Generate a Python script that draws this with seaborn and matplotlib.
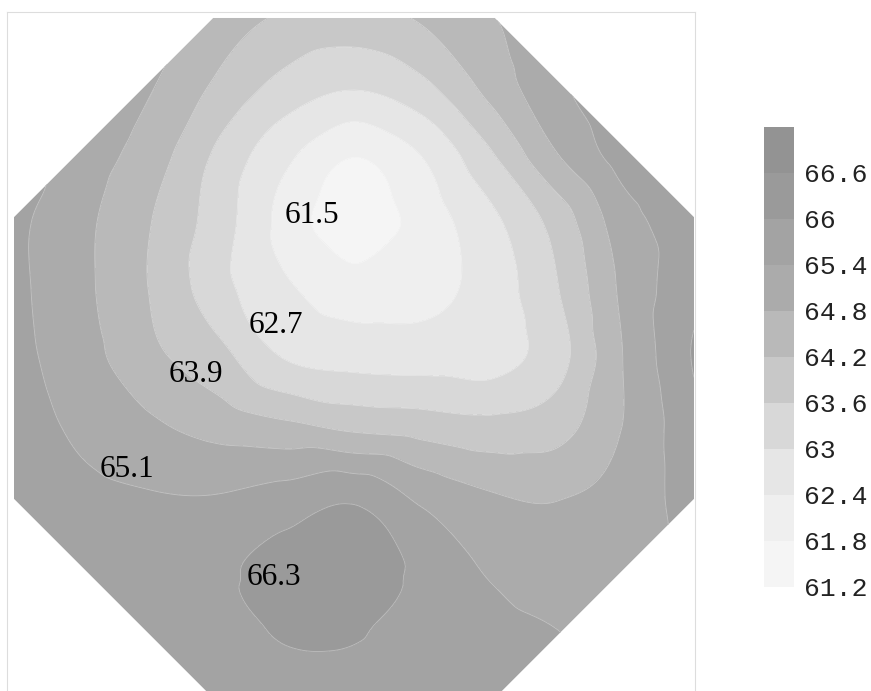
import numpy as np
import matplotlib
matplotlib.use("Agg")
import matplotlib.pyplot as plt
import matplotlib.tri as mtri
from matplotlib.patches import Polygon
import seaborn as sns

# --- grid nodes (octagon inradius = 1) ---
x_nodes = [-1.0, -0.8, -0.6, -0.4, -0.2, 0.0, 0.2, 0.4, 0.6, 0.8, 1.0]
y_nodes = [1.0, 0.8, 0.6, 0.4, 0.2, 0.0, -0.2, -0.4, -0.6, -0.8, -1.0]

# values, one row per y node (top to bottom)
z_rows = [
    [66.2, 65.7, 65.2, 64.52, 64.1, 64.0, 64.28, 64.75, 65.3, 65.8, 66.2],
    [65.9, 65.4, 64.85, 64.09, 63.39, 63.06, 63.46, 64.4, 65.3, 65.8, 66.1],
    [65.8, 65.14, 64.51, 63.49, 62.54, 61.84, 62.43, 63.53, 64.8, 65.68, 66.0],
    [65.55, 64.95, 64.22, 63.3, 62.2, 61.3, 62.08, 62.83, 63.85, 65.17, 65.75],
    [65.55, 64.94, 64.18, 63.23, 62.49, 62.15, 62.2, 62.67, 63.58, 64.97, 65.85],
    [65.6, 65.05, 64.35, 63.82, 62.97, 62.78, 62.76, 62.75, 63.39, 64.86, 66.05],
    [65.7, 65.27, 64.9, 64.57, 64.32, 64.05, 63.92, 63.77, 63.96, 64.85, 65.85],
    [65.8, 65.55, 65.43, 65.4, 65.6, 65.85, 65.23, 64.83, 64.75, 65.0, 65.75],
    [65.9, 65.75, 65.8, 65.9, 66.2, 66.4, 65.85, 65.3, 65.1, 65.25, 65.6],
    [65.9, 65.85, 65.8, 65.85, 66.05, 66.05, 65.75, 65.55, 65.4, 65.2, 65.5],
    [65.9, 65.85, 65.8, 65.75, 65.8, 65.8, 65.7, 65.6, 65.5, 65.4, 65.6],
]

levels = [61.2, 61.8, 62.4, 63.0, 63.6, 64.2, 64.8, 65.4, 66.0, 66.6, 67.2]
band_colors = ['#f5f5f5', '#efefef', '#e6e6e6', '#d8d8d8', '#c8c8c8',
               '#b9b9b9', '#ababab', '#a3a3a3', '#9a9a9a', '#939393']

# contour labels
label_vals = [61.5, 62.7, 63.9, 65.1, 66.3]
label_x = [-0.124, -0.229, -0.465, -0.668, -0.235]
label_y = [0.418, 0.097, -0.05, -0.329, -0.647]

sns.set_theme(style="white")
plt.rcParams['font.family'] = ['Liberation Serif', 'DejaVu Serif']

# --- triangulation + smooth refinement ---
X, Y = np.meshgrid(x_nodes, y_nodes)
Z = np.array(z_rows)
tri = mtri.Triangulation(X.ravel(), Y.ravel())
refiner = mtri.UniformTriRefiner(tri)
interp = mtri.CubicTriInterpolator(tri, Z.ravel(), kind='geom')
tri_fine, z_fine = refiner.refine_field(Z.ravel(), triinterpolator=interp, subdiv=4)

fig = plt.figure(figsize=(8.71, 6.91), dpi=100)
ax = fig.add_axes([7 / 871, -10 / 691, 687.5 / 871, 689 / 691])
ax.set_xlim(-1.0206, 1.0015)
ax.set_ylim(-1.0088, 1.0176)
ax.set_xticks([])
ax.set_yticks([])
for sp in ax.spines.values():
    sp.set_color('#dddddd')
    sp.set_linewidth(0.8)

# octagon outline used as clip
t = np.tan(np.pi / 8)
octo = [(t, 1), (1, t), (1, -t), (t, -1), (-t, -1), (-1, -t), (-1, t), (-t, 1)]
clip = Polygon(octo, closed=True, transform=ax.transData, facecolor='none', edgecolor='none')
ax.add_patch(clip)

cs = ax.tricontourf(tri_fine, z_fine, levels=levels, colors=sns.color_palette(band_colors))
cs.set_clip_path(clip)
cl = ax.tricontour(tri_fine, z_fine, levels=levels[1:-1], colors='white', linewidths=0.6, alpha=0.35)
cl.set_clip_path(clip)

for v, lx, ly in zip(label_vals, label_x, label_y):
    ax.text(lx, ly, f"{v}", fontsize=22.5, ha='center', va='center', color='black',
            family=['Liberation Serif', 'DejaVu Serif'])

# --- colorbar ---
cax = fig.add_axes([764 / 871, (691 - 587) / 691, 30 / 871, 460 / 691])
cb = fig.colorbar(cs, cax=cax, ticks=levels[:-1])
cb.outline.set_visible(False)
cb.ax.set_yticklabels([f"{v:g}" for v in levels[:-1]], family=['Liberation Mono', 'DejaVu Sans Mono'],
                      fontsize=19, color='#222222')
cb.ax.tick_params(length=0, pad=7)

fig.savefig("out.png", dpi=100, facecolor='white')
